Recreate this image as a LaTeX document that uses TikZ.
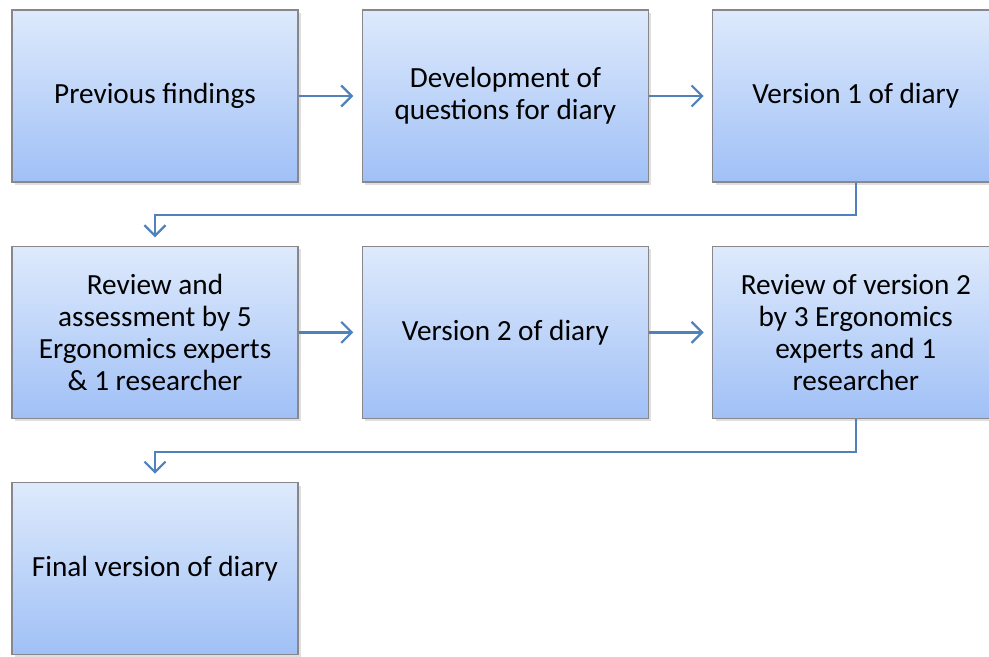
\documentclass[tikz,border=0pt]{standalone}
\usepackage{fontspec}
\setmainfont{Carlito}
\usepackage{tikz}
\usetikzlibrary{arrows.meta,shadows}

\definecolor{boxtop}{RGB}{222,234,252}
\definecolor{boxbot}{RGB}{160,192,246}
\definecolor{boxline}{RGB}{135,135,140}
\definecolor{flowblue}{RGB}{79,129,189}

\begin{document}
\begin{tikzpicture}[->,>={Straight Barb[length=7.5pt,width=15pt]},shorten >=6pt,
                    node distance=8.76cm,line width=1.6pt,draw=flowblue]
  \tikzstyle{stage}=[rectangle,draw=boxline,line width=0.9pt,
                     top color=boxtop,bottom color=boxbot,
                     minimum width=7.15cm,minimum height=4.3cm,
                     align=center,font=\fontsize{20.8}{22.9}\selectfont,
                     drop shadow={shadow xshift=2pt,shadow yshift=-2pt,opacity=0.25}]
  \tikzstyle{flow}=[flowblue,line width=1.6pt]

  \useasboundingbox (0,0) rectangle (24.725,-16.425);

  \node[stage] (prev) at (3.875,-2.4)            {Previous findings}; % start
  \node[stage] (quest) [right of=prev]           {Development of\\questions for diary};
  \node[stage] (vone)  [right of=quest]          {Version 1 of diary};
  \node[stage,node distance=5.91cm] (revA) [below of=prev]
                                                 {Review and\\assessment by 5\\Ergonomics experts\\\& 1 researcher};
  \node[stage] (vtwo)  [right of=revA]           {Version 2 of diary};
  \node[stage] (revB)  [right of=vtwo]           {Review of version 2\\by 3 Ergonomics\\experts and 1\\researcher};
  \node[stage,node distance=5.91cm] (final) [below of=revA]
                                                 {Final version of diary}; % end

  \draw[flow] (prev) -- (quest);
  \draw[flow] (quest) -- (vone);
  \draw[flow] (vone.south) -- ++(0,-0.8) -| (revA.north);
  \draw[flow] (revA) -- (vtwo);
  \draw[flow] (vtwo) -- (revB);
  \draw[flow] (revB.south) -- ++(0,-0.82) -| (final.north);
\end{tikzpicture}
\end{document}
